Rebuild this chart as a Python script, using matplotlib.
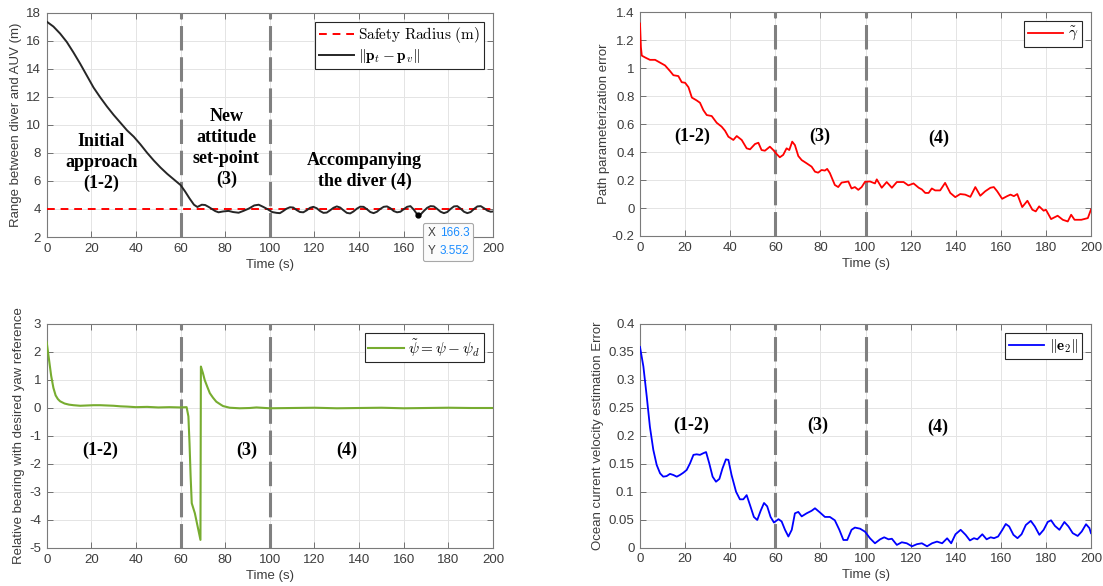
import matplotlib
matplotlib.use('Agg')
import matplotlib.pyplot as plt
from matplotlib.ticker import FuncFormatter
from matplotlib.offsetbox import TextArea, HPacker, VPacker, AnnotationBbox

plt.rcParams['mathtext.fontset'] = 'cm'
plt.rcParams['font.family'] = ['Liberation Sans', 'DejaVu Sans']

# ---------------- data ----------------
phase_bounds = [60, 100]

range_t = [0, 3, 6, 9, 12, 15, 18, 21, 24, 27, 30, 33, 36, 39, 42, 45, 48, 51, 54, 57,
           60, 62, 64, 66, 67.5, 69.5, 71, 72.5, 74, 75.5, 77, 79, 81.5, 83.5, 86, 88, 90.5,
           93, 95, 97, 99, 101, 103, 104.5, 106, 107.5, 109, 110.5, 112, 113.5, 115, 116.5,
           118, 119.5, 121, 122.5, 124, 125.5, 127, 128.5, 130, 131.5, 133, 134.5, 136,
           137.5, 139, 140.5, 142, 143.5, 145, 146.5, 148, 149.5, 151, 152.5, 154, 155.5,
           157, 158.5, 160, 161.5, 163, 164.5, 166.3, 167.5, 169, 170.5, 172, 173.5, 175,
           176.5, 178, 179.5, 181, 182.5, 184, 185.5, 187, 188.5, 190, 191.5, 193, 194.5,
           196, 197.5, 199, 200]
range_v = [17.35, 17.0, 16.5, 15.9, 15.15, 14.35, 13.5, 12.65, 11.95, 11.3, 10.7, 10.15,
           9.6, 9.15, 8.6, 8.0, 7.45, 6.95, 6.5, 6.1,
           5.7, 5.25, 4.75, 4.3, 4.14, 4.3, 4.28, 4.15, 4.0, 3.85, 3.76, 3.82, 3.86, 3.78,
           3.73, 3.85, 4.02, 4.25, 4.3, 4.15, 3.98, 3.78, 3.72, 3.70, 3.85, 4.02, 4.12, 4.1,
           3.92, 3.78, 3.76, 3.9, 4.08, 4.15, 4.05, 3.85, 3.72, 3.74, 3.9, 4.08, 4.18, 4.1,
           3.9, 3.72, 3.68, 3.82, 4.02, 4.16, 4.15, 3.98, 3.78, 3.7, 3.8, 4.0, 4.15, 4.18,
           4.05, 3.85, 3.76, 3.8, 3.98, 4.15, 4.2, 3.95, 3.552, 3.6, 3.85, 4.08, 4.2, 4.18,
           4.0, 3.8, 3.7, 3.78, 4.0, 4.18, 4.2, 4.02, 3.8, 3.7, 3.78, 4.0, 4.18, 4.2, 4.05,
           3.88, 3.8, 3.82]
safety_radius = 4.0
datatip_x, datatip_y = 166.3, 3.552

gamma_t = [0, 0.4, 0.8, 2.5, 4.4, 6.7, 8.9, 11.1, 13.3, 14.8, 17, 18.5, 20, 21.5, 23, 25.1,
           26.6, 28.1, 29.6, 31.8, 34, 36.2, 37.7, 39.2, 41.4, 42.9, 45.1, 47.3, 48.8, 51,
           52.5, 53.9, 55.4, 57.6, 59.1, 60.6, 62, 63.5, 65, 66.2, 67.5, 68.7, 70.2, 71.7,
           73.9, 76.1, 77.6, 79, 80.5, 82, 83, 84.2, 86.4, 87.9, 89.4, 92.4, 93.8, 95.3,
           96.8, 98.3, 99.8, 102, 104.2, 105, 107.2, 109.4, 111.7, 113.9, 116.9, 119, 121.3,
           123.6, 125, 126.5, 128, 129.4, 130.9, 133.1, 135.3, 137.6, 139.8, 142, 144.2,
           146.5, 148.7, 150.9, 153.1, 155.4, 156.9, 158.4, 160.6, 162.8, 164.3, 165.8,
           167.3, 169.5, 171.8, 174, 175.5, 177, 179, 180, 182.3, 185.2, 187.5, 189.7,
           191.2, 192.7, 195.7, 198.6, 200]
gamma_v = [1.32, 1.15, 1.09, 1.075, 1.06, 1.06, 1.04, 1.02, 0.98, 0.95, 0.944, 0.90, 0.896,
           0.864, 0.79, 0.77, 0.753, 0.70, 0.665, 0.658, 0.61, 0.582, 0.553, 0.51, 0.487,
           0.515, 0.487, 0.427, 0.42, 0.458, 0.467, 0.415, 0.41, 0.439, 0.415, 0.386, 0.363,
           0.38, 0.427, 0.415, 0.475, 0.45, 0.372, 0.343, 0.32, 0.296, 0.26, 0.253, 0.272,
           0.268, 0.28, 0.25, 0.165, 0.15, 0.182, 0.19, 0.14, 0.15, 0.13, 0.15, 0.188, 0.19,
           0.176, 0.205, 0.145, 0.186, 0.145, 0.186, 0.186, 0.162, 0.176, 0.145, 0.133,
           0.108, 0.108, 0.14, 0.126, 0.126, 0.18, 0.108, 0.078, 0.1, 0.096, 0.08, 0.15,
           0.088, 0.12, 0.145, 0.15, 0.12, 0.066, 0.085, 0.096, 0.085, 0.1, 0.007, 0.052,
           -0.012, -0.024, 0.012, -0.019, -0.012, -0.079, -0.055, -0.084, -0.096, -0.048,
           -0.084, -0.084, -0.072, -0.01]

psi_t = [0, 1, 2, 3, 4, 5, 6, 8, 10, 12, 15, 18, 21, 24, 27, 30, 33, 36, 40, 45, 50, 55,
         60, 62.7, 63.5, 64, 64.5, 65, 66.4, 68.9, 69.1, 70, 70.8, 72, 73.1, 74.5, 76, 78,
         79, 82, 86.5, 91, 94, 100, 110, 120, 130, 140, 150, 160, 170, 180, 190, 200]
psi_v = [2.35, 1.75, 1.15, 0.72, 0.45, 0.32, 0.24, 0.16, 0.12, 0.1, 0.08, 0.09, 0.1, 0.1,
         0.09, 0.08, 0.06, 0.05, 0.03, 0.04, 0.02, 0.03, 0.02, 0.03, -0.3, -1.26, -2.45,
         -3.4, -3.76, -4.71, 1.48, 1.25, 1.0, 0.75, 0.53, 0.37, 0.225, 0.12, 0.07, 0.01,
         -0.01, 0.0, 0.02, -0.01, 0.0, 0.01, -0.01, 0.0, 0.01, -0.01, 0.0, 0.01, 0.0, 0.0]

e2_t = [0, 1.5, 3, 4.4, 5.9, 7.4, 8.9, 10.3, 11.8, 13.3, 14.8, 16.3, 17.7, 19.2, 20.7, 22.2,
        23.7, 25.1, 26.6, 28.1, 29.3, 30.7, 32.2, 33.7, 35.2, 36.6, 38.1, 39.2, 40.6, 42.6,
        44.3, 45.8, 47.3, 48.8, 50.5, 52, 53.5, 55, 56.4, 57.9, 59.4, 61.4, 62.8, 64.3,
        65.8, 67.3, 68.7, 70.2, 71.7, 73.9, 76.1, 77.6, 79.8, 82, 84.2, 86.4, 88.4, 90.2,
        91.9, 93.8, 95.3, 97.6, 99.8, 102, 104.2, 106.5, 108.3, 110.2, 111.7, 113.9, 116.1,
        118.3, 120.6, 122.8, 125, 127.3, 129.5, 131.7, 134, 136.2, 138, 139.9, 142.2,
        144.4, 146.3, 148.1, 149.6, 151.8, 153.7, 155.5, 157, 158.8, 160.7, 162.2, 163.7,
        165.6, 167.4, 169.2, 171.1, 173.3, 175.1, 177.1, 179, 180.8, 182.3, 184, 186,
        188.2, 190, 191.9, 194.1, 195.9, 197.8, 199.3, 200]
e2_v = [0.359, 0.324, 0.27, 0.216, 0.175, 0.148, 0.133, 0.127, 0.128, 0.132, 0.130, 0.127,
        0.130, 0.134, 0.139, 0.151, 0.166, 0.167, 0.166, 0.169, 0.171, 0.151, 0.127, 0.118,
        0.123, 0.142, 0.158, 0.157, 0.13, 0.100, 0.0865, 0.0865, 0.094, 0.076, 0.055,
        0.0495, 0.066, 0.080, 0.074, 0.055, 0.045, 0.051, 0.047, 0.032, 0.020, 0.032,
        0.0615, 0.064, 0.056, 0.0615, 0.066, 0.0705, 0.063, 0.055, 0.055, 0.049, 0.032,
        0.0138, 0.0138, 0.032, 0.036, 0.034, 0.0286, 0.0168, 0.0079, 0.015, 0.0186, 0.015,
        0.016, 0.005, 0.0097, 0.0079, 0.0025, 0.0063, 0.0079, 0.0025, 0.0079, 0.0109,
        0.0079, 0.0168, 0.0079, 0.024, 0.032, 0.023, 0.013, 0.017, 0.015, 0.024, 0.015,
        0.0186, 0.017, 0.02, 0.032, 0.0424, 0.038, 0.023, 0.017, 0.024, 0.0406, 0.048,
        0.038, 0.023, 0.032, 0.046, 0.049, 0.039, 0.032, 0.046, 0.038, 0.026, 0.021, 0.029,
        0.042, 0.035, 0.026]

# ---------------- figure ----------------
W, H = 1103, 586
fig = plt.figure(figsize=(W / 100, H / 100), dpi=100)


def add_ax(l, t, r, b):
    return fig.add_axes([l / W, 1 - b / H, (r - l) / W, (b - t) / H])


ax1 = add_ax(46.7, 12.5, 493, 237)
ax2 = add_ax(640, 12.3, 1091, 236)
ax3 = add_ax(46.7, 324, 493, 548)
ax4 = add_ax(640, 324, 1091, 547.7)

TXT = '#3c3c3c'


def fmt(v, p):
    if abs(v) < 1e-9:
        v = 0.0
    return '%g' % round(v, 6)


def style(ax, ylim, yticks, ylabel, ylabelpad=3):
    ax.set_xlim(0, 200)
    ax.set_ylim(*ylim)
    ax.set_xticks(range(0, 201, 20))
    ax.set_yticks(yticks)
    ax.yaxis.set_major_formatter(FuncFormatter(fmt))
    ax.grid(True, color='#e4e4e4', lw=0.7)
    ax.set_axisbelow(True)
    ax.tick_params(direction='in', top=True, right=True, length=4, width=0.7,
                   colors='#707070', labelcolor=TXT, labelsize=9.5, pad=4)
    for s in ax.spines.values():
        s.set_color('#7a7a7a')
        s.set_linewidth(0.8)
    ax.set_xlabel('Time (s)', fontsize=9.5, color=TXT, labelpad=3)
    ax.set_ylabel(ylabel, fontsize=9.5, color=TXT, labelpad=ylabelpad)
    for b in phase_bounds:
        ax.axvline(b, color='#808080', lw=2.2, ls=(0, (8, 2.2)), zorder=3)


def phase_text(ax, x, y, s):
    ax.text(x, y, s, ha='center', va='center', fontsize=13, fontweight='bold',
            family='Liberation Serif', color='black', linespacing=1.28, zorder=4)


def legend(ax):
    lg = ax.legend(loc='upper right', fontsize=11, fancybox=False, framealpha=1,
                   edgecolor='#262626', handlelength=2.3, borderpad=0.25,
                   borderaxespad=0.6, handletextpad=0.3, labelspacing=0.12)
    lg.get_frame().set_linewidth(0.8)


# ---- panel 1 ----
style(ax1, (2, 18), range(2, 19, 2), 'Range between diver and AUV (m)')
ax1.axhline(safety_radius, color='#ff0000', lw=1.4, ls=(0, (4, 3)),
            label=r'$\mathrm{Safety\ Radius\ (m)}$', zorder=4)
ax1.plot(range_t, range_v, color='#262626', lw=1.4,
         label=r'$\Vert\mathbf{p}_t-\mathbf{p}_v\Vert$', zorder=5)
legend(ax1)
phase_text(ax1, 24.5, 7.3, 'Initial\napproach\n(1-2)')
phase_text(ax1, 80.5, 8.35, 'New\nattitude\nset-point\n(3)')
phase_text(ax1, 142.5, 6.7, 'Accompanying\nthe diver (4)')
# the data tip box hides the "180" tick label in the reference
fig.canvas.draw()
for lab in ax1.get_xticklabels():
    if lab.get_text() == '180':
        lab.set_visible(False)
ax1.plot([datatip_x], [datatip_y], 'o', ms=3.5, color='black', zorder=6)
row1 = HPacker(children=[TextArea('X', textprops=dict(color='#404040', fontsize=8.5)),
                         TextArea('%.1f' % datatip_x,
                                  textprops=dict(color='#1a8cff', fontsize=8.5))],
               sep=3, pad=0, align='baseline')
row2 = HPacker(children=[TextArea('Y', textprops=dict(color='#404040', fontsize=8.5)),
                         TextArea('%.3f' % datatip_y,
                                  textprops=dict(color='#1a8cff', fontsize=8.5))],
               sep=3, pad=0, align='baseline')
tip = VPacker(children=[row1, row2], sep=4, pad=0, align='left')
ab = AnnotationBbox(tip, (datatip_x, datatip_y), xybox=(7, -8.5), xycoords='data',
                    boxcoords='offset points', box_alignment=(0, 1), frameon=True,
                    pad=0.3, annotation_clip=False,
                    bboxprops=dict(edgecolor='#a8a8a8', facecolor='#fbfbfb',
                                   boxstyle='round,pad=0.3,rounding_size=0.15', lw=0.8))
ab.set_zorder(10)
ax1.add_artist(ab)

# ---- panel 2 ----
style(ax2, (-0.2, 1.4), [-0.2, 0, 0.2, 0.4, 0.6, 0.8, 1.0, 1.2, 1.4],
      'Path parameterization error', ylabelpad=1)
ax2.plot(gamma_t, gamma_v, color='#ff0000', lw=1.3, label=r'$\tilde{\gamma}$', zorder=5)
legend(ax2)
phase_text(ax2, 23, 0.51, '(1-2)')
phase_text(ax2, 79.5, 0.51, '(3)')
phase_text(ax2, 132.5, 0.5, '(4)')

# ---- panel 3 ----
style(ax3, (-5, 3), range(-5, 4), 'Relative bearing with desired yaw reference')
ax3.plot(psi_t, psi_v, color='#77ac30', lw=1.5, label=r'$\tilde{\psi}=\psi-\psi_d$', zorder=5)
legend(ax3)
phase_text(ax3, 24, -1.5, '(1-2)')
phase_text(ax3, 89.5, -1.5, '(3)')
phase_text(ax3, 134.5, -1.5, '(4)')

# ---- panel 4 ----
style(ax4, (0, 0.4), [0, 0.05, 0.1, 0.15, 0.2, 0.25, 0.3, 0.35, 0.4],
      'Ocean current velocity estimation Error')
ax4.plot(e2_t, e2_v, color='#0000ff', lw=1.3, label=r'$\Vert\mathbf{e}_2\Vert$', zorder=5)
legend(ax4)
phase_text(ax4, 22.6, 0.219, '(1-2)')
phase_text(ax4, 79, 0.219, '(3)')
phase_text(ax4, 132, 0.216, '(4)')

fig.savefig('out.png', dpi=100)
